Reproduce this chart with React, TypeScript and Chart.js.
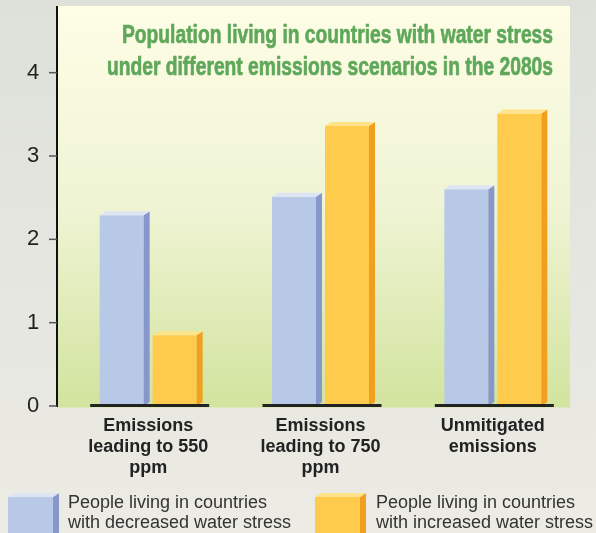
import React, { useEffect, useRef } from "react";
import { Chart, registerables } from "chart.js";
Chart.register(...registerables);

const categories = [
  ["Emissions", "leading to 550", "ppm"],
  ["Emissions", "leading to 750", "ppm"],
  ["Unmitigated", "emissions"],
];
const decreasedStress = [2.29, 2.51, 2.6];
const increasedStress = [0.85, 3.36, 3.51];
const legendDecreased = ["People living in countries", "with decreased water stress"];
const legendIncreased = ["People living in countries", "with increased water stress"];
const titleLines = [
  "Population living in countries with water stress",
  "under different emissions scenarios in the 2080s",
];
const yTicks = [0, 1, 2, 3, 4];
const yMax = 4.8;

const FONT = '"Liberation Sans", Arial, Helvetica, sans-serif';
const BLUE = { front: "#b8c9e8", side: "#8797cc", top: "#dde4f3" };
const ORANGE = { front: "#fecb4c", side: "#f0a01e", top: "#fee38a" };
const DX = 6;
const DY = 4;

function draw3D(ctx: CanvasRenderingContext2D, left: number, right: number, top: number, bottom: number, c: any) {
  ctx.fillStyle = c.side;
  ctx.beginPath();
  ctx.moveTo(right, top);
  ctx.lineTo(right + DX, top - DY);
  ctx.lineTo(right + DX, bottom - DY);
  ctx.lineTo(right, bottom);
  ctx.closePath();
  ctx.fill();
  ctx.fillStyle = c.top;
  ctx.beginPath();
  ctx.moveTo(left, top);
  ctx.lineTo(left + DX, top - DY);
  ctx.lineTo(right + DX, top - DY);
  ctx.lineTo(right, top);
  ctx.closePath();
  ctx.fill();
}

const customPlugin = {
  id: "custom3d",
  beforeDraw(chart: any) {
    const { ctx, width, height, chartArea: a } = chart;
    ctx.save();
    const g = ctx.createLinearGradient(0, 0, 0, height);
    g.addColorStop(0, "#dde1da");
    g.addColorStop(1, "#ecebe4");
    ctx.fillStyle = g;
    ctx.fillRect(0, 0, width, height);
    const left = a.left - 5;
    const right = a.right - 9;
    const pg = ctx.createLinearGradient(0, a.top, 0, a.bottom);
    pg.addColorStop(0, "#fefde6");
    pg.addColorStop(0.5, "#eff4d4");
    pg.addColorStop(1, "#d2e49f");
    ctx.fillStyle = pg;
    ctx.fillRect(left, a.top, right - left, a.bottom + 1.5 - a.top);
    ctx.strokeStyle = "#111";
    ctx.lineWidth = 2;
    ctx.beginPath();
    ctx.moveTo(left, a.top);
    ctx.lineTo(left, a.bottom + 1);
    ctx.stroke();
    const ys = chart.scales.y;
    ctx.strokeStyle = "#555";
    ctx.lineWidth = 1.5;
    yTicks.forEach((v) => {
      const y = ys.getPixelForValue(v);
      ctx.beginPath();
      ctx.moveTo(left - 8, y);
      ctx.lineTo(left, y);
      ctx.stroke();
    });
    // title
    ctx.font = `bold 26px ${FONT}`;
    const w1 = ctx.measureText(titleLines[0]).width;
    const sx = 431 / w1;
    ctx.fillStyle = "#5fa85b";
    ctx.strokeStyle = "#5fa85b";
    ctx.lineWidth = 0.7;
    ctx.textAlign = "right";
    ctx.textBaseline = "alphabetic";
    const baselines = [43, 75];
    titleLines.forEach((t, i) => {
      ctx.save();
      ctx.translate(553, baselines[i]);
      ctx.scale(sx, 1);
      ctx.fillText(t, 0, 0);
      ctx.strokeText(t, 0, 0);
      ctx.restore();
    });
    ctx.restore();
  },
  afterDatasetsDraw(chart: any) {
    const { ctx, chartArea: a } = chart;
    ctx.save();
    [BLUE, ORANGE].forEach((c, di) => {
      const meta = chart.getDatasetMeta(di);
      meta.data.forEach((el: any) => {
        const p = el.getProps(["x", "y", "base", "width"], true);
        draw3D(ctx, p.x - p.width / 2, p.x + p.width / 2, p.y, p.base, c);
      });
    });
    const xs = chart.scales.x;
    ctx.strokeStyle = "#222";
    ctx.lineWidth = 3;
    categories.forEach((_, i) => {
      const cx = xs.getPixelForValue(i);
      ctx.beginPath();
      ctx.moveTo(cx - 58, a.bottom - 0.5);
      ctx.lineTo(cx + 61, a.bottom - 0.5);
      ctx.stroke();
    });
    ctx.restore();
  },
  afterDraw(chart: any) {
    const { ctx } = chart;
    ctx.save();
    const items = [
      { x: 8, tx: 68, c: BLUE, lines: legendDecreased },
      { x: 315, tx: 376, c: ORANGE, lines: legendIncreased },
    ];
    items.forEach((it) => {
      const top = 497;
      const w = 45;
      ctx.fillStyle = it.c.front;
      ctx.fillRect(it.x, top, w, 40);
      draw3D(ctx, it.x, it.x + w, top, 540, it.c);
      ctx.fillStyle = "#333";
      ctx.font = `18px ${FONT}`;
      ctx.textAlign = "left";
      ctx.textBaseline = "alphabetic";
      ctx.fillText(it.lines[0], it.tx, 508);
      ctx.fillText(it.lines[1], it.tx, 528);
    });
    ctx.restore();
  },
};

export default function App() {
  const ref = useRef<HTMLCanvasElement>(null);
  useEffect(() => {
    if (!ref.current) return;
    const chart = new Chart(ref.current, {
      type: "bar",
      data: {
        labels: categories as any,
        datasets: [
          {
            label: legendDecreased.join(" "),
            data: decreasedStress,
            backgroundColor: BLUE.front,
            borderWidth: 0,
            barPercentage: 0.83,
            categoryPercentage: 0.615,
          },
          {
            label: legendIncreased.join(" "),
            data: increasedStress,
            backgroundColor: ORANGE.front,
            borderWidth: 0,
            barPercentage: 0.83,
            categoryPercentage: 0.615,
          },
        ],
      },
      options: {
        responsive: false,
        animation: false,
        layout: { padding: { left: 27, right: 17, top: 6, bottom: 47 } },
        plugins: { legend: { display: false }, title: { display: false }, tooltip: { enabled: false } },
        scales: {
          x: {
            grid: { display: false, drawTicks: false },
            border: { display: false },
            ticks: {
              color: "#222",
              padding: 10,
              maxRotation: 0,
              autoSkip: false,
              font: { family: FONT, size: 18, weight: "bold", lineHeight: 1.15 },
            },
            afterFit: (s: any) => {
              s.height = 80;
            },
          },
          y: {
            min: 0,
            max: yMax,
            grid: { display: false, drawTicks: false },
            border: { display: false },
            ticks: {
              stepSize: 1,
              includeBounds: false,
              color: "#222",
              padding: 0,
              crossAlign: "far",
              font: { family: FONT, size: 22, lineHeight: 0.5 },
            },
            afterFit: (s: any) => {
              s.width = 35;
            },
          },
        },
      },
      plugins: [customPlugin],
    });
    return () => chart.destroy();
  }, []);
  return (
    <div style={{ position: "absolute", left: 0, top: 0, width: 596, height: 533 }}>
      <canvas ref={ref} width={596} height={533} style={{ display: "block" }} />
    </div>
  );
}
